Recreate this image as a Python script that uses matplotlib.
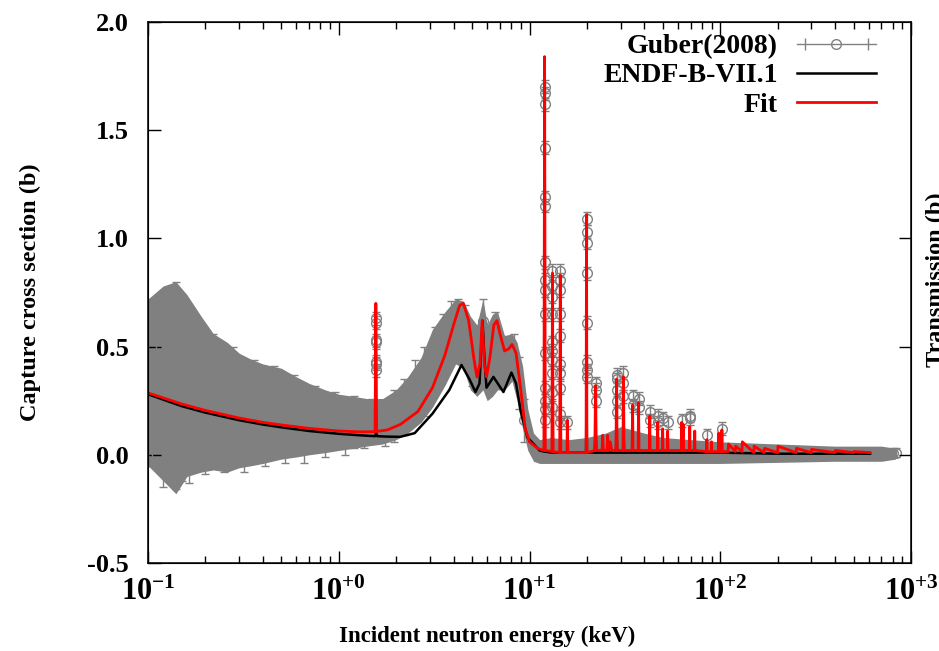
import matplotlib
matplotlib.use('Agg')
import matplotlib.pyplot as plt
from matplotlib.lines import Line2D
from matplotlib.legend_handler import HandlerLine2D
from matplotlib.ticker import FixedLocator, FixedFormatter, LogLocator, NullFormatter

plt.rcParams['font.family'] = ['Liberation Serif', 'DejaVu Serif']
plt.rcParams['font.weight'] = 'bold'
plt.rcParams['mathtext.fontset'] = 'custom'
plt.rcParams['mathtext.rm'] = 'Liberation Serif'
plt.rcParams['mathtext.bf'] = 'Liberation Serif:bold'
plt.rcParams['mathtext.it'] = 'Liberation Serif:italic'
plt.rcParams['axes.unicode_minus'] = False

GRAY = '#808080'

# Guber(2008) data: envelope of the dense band (keV, b)
band_E = [0.10, 0.12, 0.14, 0.16, 0.19, 0.22, 0.26, 0.30, 0.35, 0.40, 0.50, 0.60,
          0.70, 0.85, 1.0, 1.2, 1.4, 1.7, 2.0, 2.3, 2.7, 3.1, 3.6, 4.1, 4.5, 4.9,
          5.3, 5.7, 6.0, 6.4, 6.8, 7.4, 8.1, 8.6, 9.2, 9.8, 10.5, 11.3, 13, 16, 20,
          25, 30, 40, 50, 70, 100, 200, 400, 700, 830]
band_lo = [-0.05, -0.12, -0.18, -0.10, -0.08, -0.07, -0.08, -0.06, -0.05, -0.04, -0.02, -0.01,
           0.00, 0.01, 0.02, 0.03, 0.04, 0.05, 0.07, 0.10, 0.15, 0.22, 0.32, 0.42, 0.40, 0.30,
           0.27, 0.30, 0.25, 0.27, 0.30, 0.30, 0.34, 0.25, 0.12, 0.02, -0.03, -0.04, -0.04, -0.04, -0.04,
           -0.04, -0.04, -0.04, -0.04, -0.04, -0.04, -0.035, -0.03, -0.03, -0.02]
band_hi = [0.72, 0.78, 0.80, 0.74, 0.64, 0.56, 0.52, 0.47, 0.44, 0.42, 0.40, 0.36,
           0.33, 0.30, 0.28, 0.27, 0.26, 0.26, 0.30, 0.36, 0.45, 0.58, 0.66, 0.72, 0.71, 0.64,
           0.60, 0.72, 0.60, 0.65, 0.66, 0.55, 0.56, 0.52, 0.41, 0.21, 0.10, 0.07, 0.08, 0.07, 0.08,
           0.10, 0.13, 0.10, 0.08, 0.07, 0.06, 0.05, 0.04, 0.04, 0.03]

# Guber(2008) individual points with error bars
pts_E = [0.10, 0.105, 0.11, 0.12, 0.13, 0.14, 0.15, 0.165, 0.18, 0.20, 0.22, 0.25,
         0.28, 0.32, 0.36, 0.41, 0.46, 0.52, 0.58, 0.66, 0.75, 0.85, 0.95, 1.08,
         1.2, 1.35, 1.50, 1.75, 1.95, 2.2, 2.5, 2.8, 3.2, 3.5, 3.9, 4.2, 4.6, 5.0,
         5.4, 5.7, 6.1, 6.6, 7.1, 7.7, 8.3, 8.8, 9.4,
         25, 40, 60, 90, 150, 250, 400, 600, 800, 830]
pts_y = [0.33, 0.20, 0.42, 0.30, 0.18, 0.32, 0.28, 0.22, 0.35, 0.18, 0.28, 0.20,
         0.24, 0.16, 0.22, 0.15, 0.20, 0.14, 0.19, 0.12, 0.17, 0.13, 0.16, 0.12,
         0.15, 0.14, 0.16, 0.14, 0.18, 0.22, 0.30, 0.34, 0.44, 0.52, 0.60, 0.62, 0.57, 0.45,
         0.46, 0.62, 0.45, 0.55, 0.44, 0.45, 0.46, 0.33, 0.16,
         0.03, 0.03, 0.02, 0.02, 0.01, 0.01, 0.01, 0.01, 0.01, 0.01]
pts_err = [0.38, 0.25, 0.30, 0.45, 0.30, 0.48, 0.40, 0.35, 0.28, 0.27, 0.28, 0.28,
           0.26, 0.24, 0.22, 0.20, 0.21, 0.18, 0.18, 0.16, 0.15, 0.14, 0.13, 0.12,
           0.12, 0.11, 0.10, 0.10, 0.12, 0.13, 0.14, 0.16, 0.15, 0.13, 0.11, 0.10, 0.12, 0.13,
           0.12, 0.10, 0.12, 0.11, 0.11, 0.10, 0.10, 0.12, 0.10,
           0.03, 0.03, 0.03, 0.03, 0.03, 0.03, 0.02, 0.02, 0.02, 0.02]

# resonance columns of Guber points
res_E = ([1.57] * 7 + [12.0] * 15 + [13.2] * 10 + [14.5] * 10 + [15.8] + [19.9] * 8
         + [22.2] * 3 + [28.6] * 5 + [31.1] * 3 + [34.7] * 2 + [37.3] * 2 + [42.7] * 2
         + [47.0] * 2 + [49.9, 53.0, 62.8, 69.2, 69.2, 85.0, 102.0])
res_y = ([0.63, 0.61, 0.53, 0.52, 0.43, 0.42, 0.39]
         + [1.70, 1.67, 1.62, 1.42, 1.19, 1.15, 0.89, 0.81, 0.76, 0.65, 0.47, 0.31, 0.25, 0.21, 0.16]
         + [0.85, 0.78, 0.73, 0.65, 0.52, 0.48, 0.44, 0.38, 0.29, 0.22]
         + [0.85, 0.81, 0.76, 0.65, 0.55, 0.42, 0.38, 0.31, 0.19, 0.15]
         + [0.15]
         + [1.09, 1.03, 0.98, 0.84, 0.61, 0.43, 0.39, 0.36]
         + [0.33, 0.30, 0.25] + [0.37, 0.35, 0.30, 0.25, 0.20] + [0.38, 0.33, 0.27]
         + [0.27, 0.23] + [0.26, 0.22] + [0.20, 0.16] + [0.18, 0.15]
         + [0.17, 0.15, 0.16, 0.18, 0.17, 0.09, 0.12])
res_err = [0.03] * len(res_y)

# ENDF-B-VII.1 evaluation
endf_E = [0.1, 0.15, 0.2, 0.3, 0.4, 0.5, 0.7, 1.0, 1.3, 1.55, 1.57, 1.59, 1.8, 2.1, 2.5,
          3.1, 3.8, 4.4, 4.84, 5.21, 5.47, 5.67, 5.81, 5.95, 6.47, 7.30, 8.04, 8.5, 9.0,
          9.76, 11.3, 11.9, 12.0, 12.1, 13.0, 19.8, 19.9, 20.0, 22.0, 22.2, 22.4, 28.4,
          28.6, 28.8, 31.0, 31.1, 31.3, 60, 100, 200, 400, 610]
endf_y = [0.28, 0.225, 0.195, 0.16, 0.14, 0.127, 0.11, 0.097, 0.09, 0.086, 0.10, 0.086, 0.084, 0.083, 0.10,
          0.19, 0.30, 0.415, 0.35, 0.29, 0.33, 0.62, 0.44, 0.31, 0.36, 0.29, 0.38, 0.33, 0.20,
          0.08, 0.02, 0.015, 0.03, 0.015, 0.01, 0.01, 0.35, 0.01, 0.01, 0.12, 0.01, 0.01,
          0.15, 0.01, 0.01, 0.14, 0.01, 0.01, 0.01, 0.005, 0.005, 0.005]

# Fit
fit_E = [0.1, 0.15, 0.2, 0.3, 0.4, 0.5, 0.7, 1.0, 1.3, 1.55, 1.565, 1.58, 1.8, 2.1, 2.6,
         3.1, 3.6, 4.0, 4.3, 4.5, 4.8, 5.1, 5.3, 5.5, 5.65, 5.8, 5.95, 6.2, 6.5, 6.75,
         7.0, 7.4, 7.8, 8.1, 8.5, 9.0, 9.5, 10.0, 11.0, 11.9, 12.0, 12.1, 13.1, 13.2, 13.3,
         14.4, 14.5, 14.6, 15.7, 15.8, 15.9, 19.8, 19.9, 20.0, 22.0, 22.2, 22.4, 24.0, 24.2,
         24.4, 25.5, 25.7, 25.9, 26.5, 27.0, 28.4, 28.6, 28.8, 30.9, 31.1, 31.3, 34.5, 34.7,
         34.9, 37.1, 37.3, 37.5, 42.5, 42.7, 42.9, 46.8, 47.0, 47.2, 49.7, 49.9, 50.1, 52.8,
         53.0, 53.2, 62.5, 62.8, 63.1, 64.0, 64.3, 69.0, 69.2, 69.4, 73.3, 73.5, 73.7, 84.7,
         85.0, 85.3, 89.7, 90.0, 90.3, 97.7, 98.0, 98.3, 101.7, 102.0, 102.3, 110, 110.4,
         120, 120.4, 130, 130.5, 150, 150.5, 170, 170.6, 200, 200.7, 250, 251, 300, 301,
         400, 401, 500, 502, 610]
fit_y = [0.286, 0.235, 0.205, 0.17, 0.15, 0.138, 0.122, 0.11, 0.106, 0.107, 0.70, 0.108, 0.115, 0.14, 0.20,
         0.31, 0.46, 0.60, 0.69, 0.70, 0.62, 0.45, 0.36, 0.42, 0.62, 0.42, 0.36, 0.45, 0.60, 0.62,
         0.56, 0.48, 0.49, 0.51, 0.47, 0.30, 0.12, 0.06, 0.03, 0.02, 1.84, 0.02, 0.015, 0.84, 0.015,
         0.01, 0.83, 0.01, 0.01, 0.16, 0.01, 0.01, 1.11, 0.01, 0.02, 0.32, 0.02, 0.02, 0.09,
         0.02, 0.02, 0.09, 0.02, 0.06, 0.02, 0.02, 0.35, 0.02, 0.02, 0.36, 0.02, 0.02, 0.23,
         0.02, 0.02, 0.24, 0.02, 0.02, 0.18, 0.02, 0.02, 0.15, 0.02, 0.02, 0.12, 0.02, 0.02,
         0.11, 0.02, 0.02, 0.15, 0.02, 0.14, 0.02, 0.02, 0.13, 0.02, 0.02, 0.11, 0.02, 0.015,
         0.07, 0.015, 0.015, 0.06, 0.015, 0.015, 0.10, 0.015, 0.015, 0.115, 0.015, 0.015, 0.05,
         0.015, 0.04, 0.015, 0.06, 0.01, 0.04, 0.01, 0.03, 0.01, 0.04, 0.01, 0.03, 0.01, 0.025,
         0.01, 0.02, 0.01, 0.015, 0.01]

xticks = [0.1, 1, 10, 100, 1000]
xtick_labels = [r'$\mathbf{10}^{-1}$', r'$\mathbf{10}^{+0}$', r'$\mathbf{10}^{+1}$',
                r'$\mathbf{10}^{+2}$', r'$\mathbf{10}^{+3}$']
yticks = [-0.5, 0.0, 0.5, 1.0, 1.5, 2.0]
ytick_labels = ['-0.5', '0.0', '0.5', '1.0', '1.5', '2.0']

fig = plt.figure(figsize=(9.39, 6.51), dpi=100)
ax = fig.add_subplot(111)
fig.subplots_adjust(left=148 / 939, right=911 / 939, bottom=1 - 563 / 651, top=1 - 22 / 651)

ax.fill_between(band_E, band_lo, band_hi, color=GRAY, lw=0, zorder=1)
ax.errorbar(pts_E, pts_y, yerr=pts_err, fmt='o', color=GRAY, mfc='none', mec=GRAY,
            ms=7, elinewidth=1, capsize=3, capthick=1, zorder=2)
ax.errorbar(res_E, res_y, yerr=res_err, fmt='o', color=GRAY, mfc='none', mec=GRAY,
            ms=7, elinewidth=1, capsize=3, capthick=1, zorder=2)
ax.plot(endf_E, endf_y, color='black', lw=1.8, zorder=3)
ax.plot(fit_E, fit_y, color='red', lw=2.0, zorder=4)

ax.set_xscale('log')
ax.set_xlim(0.1, 1000)
ax.set_ylim(-0.5, 2.0)
ax.xaxis.set_major_locator(FixedLocator(xticks))
ax.xaxis.set_major_formatter(FixedFormatter(xtick_labels))
ax.xaxis.set_minor_locator(LogLocator(base=10, subs=range(2, 10), numticks=20))
ax.xaxis.set_minor_formatter(NullFormatter())
ax.set_yticks(yticks)
ax.set_yticklabels(ytick_labels)
ax.tick_params(axis='x', which='major', direction='in', length=9, width=1, top=True,
               labelsize=22, pad=11)
ax.tick_params(axis='x', which='minor', direction='in', length=5, width=1, top=True)
ax.tick_params(axis='y', which='major', direction='in', length=9, width=1, right=False,
               labelsize=19, pad=14)
for s in ax.spines.values():
    s.set_linewidth(1.1)

ax2 = ax.twinx()
ax2.set_ylim(-0.5, 2.0)
ax2.set_yticks([0.0, 0.5, 1.0])
ax2.set_yticklabels([])
ax2.tick_params(axis='y', direction='in', length=9, width=1)

ax.set_xlabel('Incident neutron energy (keV)', fontsize=16.5, fontweight='bold')
ax.xaxis.set_label_coords((487 - 148) / 763, (563 - 636) / 541)
ax.xaxis.label.set_va('center')
ax.set_ylabel('Capture cross section (b)', fontsize=17.5, fontweight='bold')
ax.yaxis.set_label_coords((30 - 148) / 763, 0.5)
ax.yaxis.label.set_va('center')
fig.text(926 / 939, 1 - 280 / 651, 'Transmission (b)', rotation=90, fontsize=17.5,
         fontweight='bold', ha='left', va='center')

# legend in gnuplot style: label on the left, sample on the right
h_line = Line2D([], [], color=GRAY, lw=1)
h_caps = Line2D([], [], color=GRAY, ls='none', marker='|', ms=8)
h_circ = Line2D([], [], color=GRAY, ls='none', marker='o', mfc='none', ms=7)
h_endf = Line2D([], [], color='black', lw=1.8)
h_fit = Line2D([], [], color='red', lw=2.0)
ax.legend([(h_line, h_caps, h_circ), h_endf, h_fit],
          ['Guber(2008)', 'ENDF-B-VII.1', 'Fit'],
          handler_map={h_caps: HandlerLine2D(numpoints=2), h_circ: HandlerLine2D(numpoints=1)},
          loc='upper right', bbox_to_anchor=((876 - 148) / 763, 1 - 12 / 541),
          frameon=False, markerfirst=False, fontsize=20,
          handlelength=2.85, handletextpad=0.68, labelspacing=0.13,
          borderaxespad=0, borderpad=0)

plt.savefig('out.png', dpi=100)
